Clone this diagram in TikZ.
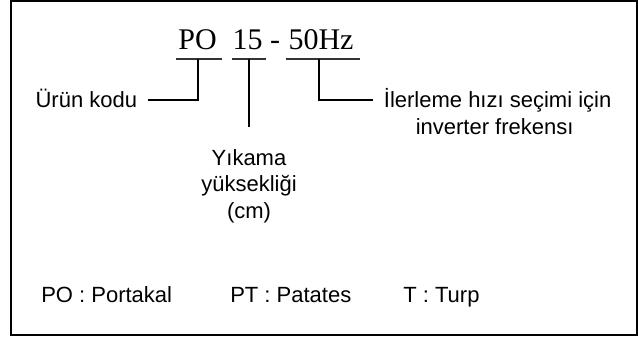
\documentclass[tikz,border=0pt]{standalone}
\usepackage{fontspec}
\setmainfont{Liberation Serif}
\setsansfont{Liberation Sans}
\usetikzlibrary{calc}
\begin{document}
\begin{tikzpicture}[x=0.75pt,y=-0.75pt,
  codepart/.style={font=\fontsize{22.5}{27}\selectfont, inner sep=0pt, anchor=base},
  tag/.style={font=\sffamily\fontsize{16.5}{20}\selectfont, inner xsep=8pt, inner ysep=0pt,
              text height=11.8pt, text depth=0pt},
  tagline/.style={font=\sffamily\fontsize{16.5}{20}\selectfont, inner sep=0pt, anchor=base},
  legend/.style={font=\sffamily\fontsize{16.5}{20}\selectfont, inner sep=0pt, anchor=base west},
  uline/.style={draw=black!80, line width=1.3pt},
  lead/.style={draw=black, line width=1.2pt},
  frame/.style={draw=black, line width=1.5pt}]
\useasboundingbox (0,0) rectangle (638,340);
\draw[frame] (11,1) rectangle (637,335);

% product code, in parts
\node[codepart] (po)   at (197.5,49) {PO};
\node[codepart] (num)  at (247.5,49) {15};
\node[codepart] (dash) at (275,49)   {-};
\node[codepart] (hz)   at (321,49)   {50Hz};

% underlines below each part
\coordinate (poL) at (176,59);  \coordinate (poR) at (222,59);  \coordinate (poM) at (198,59);
\coordinate (numL) at (232,59); \coordinate (numR) at (266,59); \coordinate (numM) at (249,59);
\coordinate (hzL) at (286,59);  \coordinate (hzR) at (360,59);  \coordinate (hzM) at (319,59);
\draw[uline] (poL) -- (poR);
\draw[uline] (numL) -- (numR);
\draw[uline] (hzL) -- (hzR);

% explanations
\node[tag, anchor=east] (urun) at (148,100) {Ürün kodu};
\node[tag, anchor=west] (ilerle1) at (373,100) {İlerleme hızı seçimi için};
\node[tagline] (ilerle2) at ($(ilerle1.base)+(-3,27)$) {inverter frekensı};
\node[tagline] (yik1) at (249,165) {Yıkama};
\node[tagline] (yik2) at (249,191.5) {yüksekliği};
\node[tagline] (yik3) at (249,218) {(cm)};

% leader lines
\draw[lead] (poM) |- (urun.east);
\draw[lead] (hzM) |- (ilerle1.west);
\draw[lead, shorten >=16.5pt] (numM) -- (numM |- yik1.north);

% legend
\node[legend] (lpo) at (41,302)  {PO : Portakal};
\node[legend] (lpt) at (230,302) {PT : Patates};
\node[legend] (lt)  at (403,302) {T : Turp};
\end{tikzpicture}
\end{document}
